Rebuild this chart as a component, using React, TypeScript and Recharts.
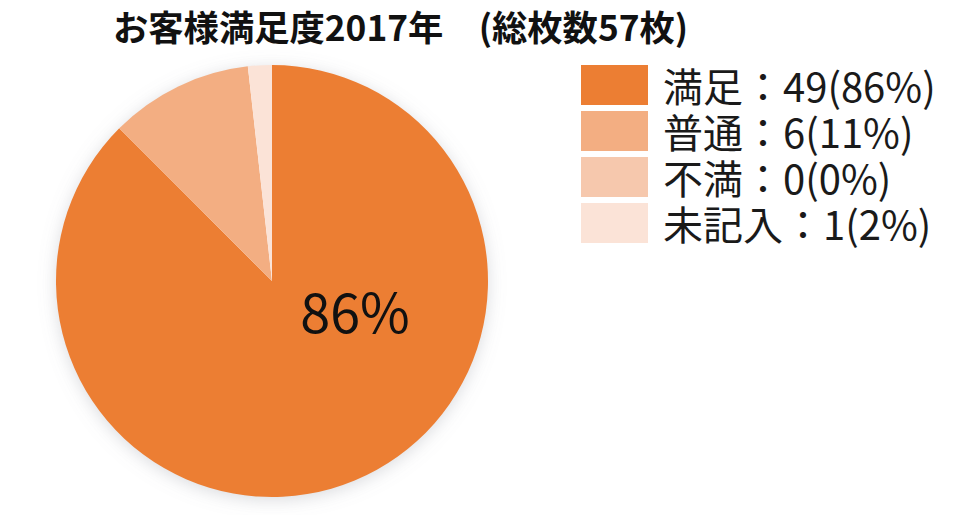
import React from "react";
import { PieChart, Pie, Cell, Legend } from "recharts";

const categories = ["満足", "普通", "不満", "未記入"];
const counts = [49, 6, 0, 1];
const percents = ["86%", "11%", "0%", "2%"];
const colors = ["#EC7E33", "#F3AE82", "#F6C8AD", "#FBE3D7"];
const title = "お客様満足度2017年　(総枚数57枚)";

const data = categories.map((name, i) => ({ name, value: counts[i], pct: percents[i] }));
const shadowData = [{ name: "shadow", value: 1 }];

const FONT = "'Noto Sans CJK JP', 'Noto Sans', sans-serif";

const renderLabel = (props: any) => {
  if (props.index !== 0) return null;
  return (
    <text
      x={props.cx + 83}
      y={props.cy + 52}
      textAnchor="middle"
      fill="#111"
      fontSize={54}
      fontFamily={FONT}
    >
      {props.payload.pct}
    </text>
  );
};

const renderLegend = () => (
  <div style={{ fontFamily: FONT }}>
    {data.map((d, i) => (
      <div
        key={d.name}
        style={{ display: "flex", alignItems: "center", height: 46, overflow: "visible" }}
      >
        <div style={{ width: 67, height: 40, background: colors[i], flex: "none" }} />
        <div style={{ marginLeft: 15, fontSize: 40, color: "#1a1a1a", lineHeight: "40px", height: 40, whiteSpace: "nowrap" }}>
          {`${d.name}：${d.value}(${d.pct})`}
        </div>
      </div>
    ))}
  </div>
);

export default function App() {
  return (
    <div style={{ position: "absolute", left: 0, top: 0, width: 980, height: 515, background: "#fff" }}>
      <PieChart width={980} height={515} margin={{ top: 0, right: 0, bottom: 0, left: 0 }}>
        <defs>
          <filter id="pieShadow" x="-20%" y="-20%" width="140%" height="140%">
            <feDropShadow dx="0" dy="3" stdDeviation="9" floodColor="#8a8f99" floodOpacity="0.35" />
          </filter>
        </defs>
        <text x={113} y={41} fontSize={35.3} fontWeight={700} fontFamily={FONT} fill="#111">
          {title}
        </text>
        <Pie
          data={shadowData}
          dataKey="value"
          cx={272}
          cy={281}
          outerRadius={215}
          stroke="none"
          fill="#ffffff"
          isAnimationActive={false}
          legendType="none"
          style={{ filter: "url(#pieShadow)" }}
        />
        <Pie
          data={data}
          dataKey="value"
          nameKey="name"
          cx={272}
          cy={281}
          outerRadius={216}
          startAngle={90}
          endAngle={-270}
          stroke="none"
          isAnimationActive={false}
          label={renderLabel}
          labelLine={false}
        >
          {data.map((d, i) => (
            <Cell key={d.name} fill={colors[i]} />
          ))}
        </Pie>
        <Legend
          content={renderLegend}
          layout="vertical"
          verticalAlign="top"
          align="right"
          wrapperStyle={{ left: 581, top: 62, width: 380 }}
        />
      </PieChart>
    </div>
  );
}
